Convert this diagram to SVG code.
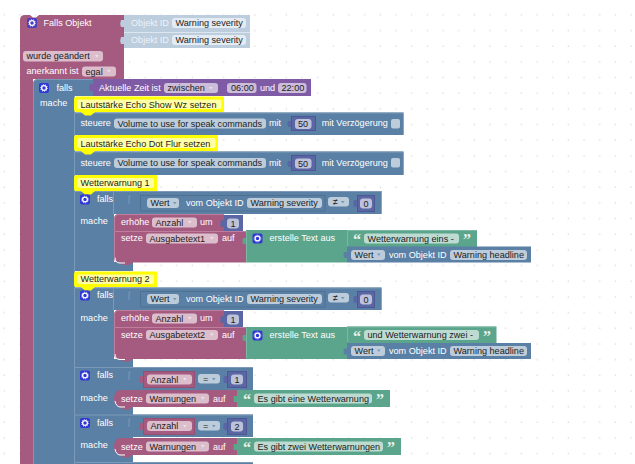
<svg xmlns="http://www.w3.org/2000/svg" width="635" height="464" viewBox="0 0 635 464">
<style>
text{font-family:"Liberation Sans",Arial,sans-serif;font-size:9.1px;white-space:pre}
.w{fill:#fff}.d{fill:#1c1c1c}
.m{fill:#a55b80}.b{fill:#5b80a5}.g{fill:#5ba58c}.p{fill:#805ba5}.n{fill:#5b67a5}.o{fill:#bccddd}
.fm{fill:#dbbdcc}.fb{fill:#bdccdb}.fg{fill:#bddbd1}.fp{fill:#ccbddb}.fn{fill:#bdc2db}.fo{fill:#e4ebf2}
.hb{fill:none;stroke:#7c99b7;stroke-width:1}.hm{fill:none;stroke:#c07d9e;stroke-width:1}.hg{fill:none;stroke:#7cb7a3;stroke-width:1}
.ob{fill:none;stroke:#4f7190;stroke-width:1}.on{fill:none;stroke:#4c5794;stroke-width:1}.om{fill:none;stroke:#944f72;stroke-width:1}
.c{fill:#ffff00}.ci{fill:#ffffa6}
.q{fill:#e6f2ee;font-family:"Liberation Serif",serif;font-size:16px;font-weight:bold}
</style>
<defs>
<pattern id="grid" patternUnits="userSpaceOnUse" x="0" y="0" width="15.67" height="15.67"><rect x="3.6" y="14.2" width="1.4" height="1.4" fill="#dedede"/></pattern>
<path id="a" d="M0 0h3.6l-1.8 2.4z" fill="#fff" fill-opacity=".55"/>
<path id="ad" d="M0 0h3.6l-1.8 2.4z" fill="#5b80a5" fill-opacity=".7"/>
<g id="i"><rect width="10" height="10" rx="2" fill="#2f38d6"/><circle cx="5" cy="5" r="2.4" fill="none" stroke="#fff" stroke-width="1.3"/><circle cx="5" cy="5" r="3.4" fill="none" stroke="#fff" stroke-width=".8" stroke-dasharray="1 1.1"/></g>
<g id="i2"><rect width="10" height="10" rx="2" fill="#4b3cc4"/><circle cx="5" cy="5" r="2.4" fill="none" stroke="#fff" stroke-width="1.3"/><circle cx="5" cy="5" r="3.4" fill="none" stroke="#fff" stroke-width=".8" stroke-dasharray="1 1.1"/></g>
</defs>
<rect width="635" height="464" fill="#fff"/>
<rect width="635" height="464" fill="url(#grid)"/>

<g id="falls-objekt">
<path class="m" d="M20 20Q20 15 25 15H30l3 2.500h3l3-2.500H124V79H33V464H20Z"/>
<use href="#i2" x="27" y="18"/>
<text class="w" x="43.500" y="26">Falls Objekt</text>
<rect class="fm" x="23" y="51" width="80" height="10.500" rx="3"/><text class="d" x="26.500" y="59.300">wurde geändert</text><use href="#a" x="95" y="55"/>
<text class="w" x="26.500" y="74">anerkannt ist</text>
<rect class="fm" x="82" y="66.500" width="34" height="10" rx="3"/><text class="d" x="85.500" y="74.500">egal</text><use href="#a" x="107" y="70"/>
</g>
<g id="objekt-id-1">
<path class="o" d="M124 15H250V32H124V27h-3q-1.500-3.500 0-7h3Z"/>
<text x="131" y="26" fill="#eef3f8">Objekt ID</text>
<rect class="fo" x="172" y="18" width="74" height="10" rx="3"/><text class="d" x="175.500" y="26">Warning severity</text>
</g>
<g id="objekt-id-2">
<path class="o" d="M124 32.500H250V48H124V44h-3q-1.500-3.500 0-7h3Z"/>
<text x="131" y="43" fill="#eef3f8">Objekt ID</text>
<rect class="fo" x="172" y="35" width="74" height="10" rx="3"/><text class="d" x="175.500" y="43">Warning severity</text>
</g>

<g id="falls-zeit">
<path class="b" d="M33 84Q33 79 38 79H93V96H74V464H33Z"/>
<path class="hb" d="M33.500 464V84Q33.500 79.500 38 79.500H93"/>
<path class="hb" d="M74.500 96V464"/>
<use href="#i" x="39" y="83"/>
<text class="w" x="56.500" y="91">falls</text>
<text class="w" x="40" y="106">mache</text>
</g>
<g id="zeit">
<path class="p" d="M93 79H311V96H93V91h-3q-2-3.500 0-7h3Z"/>
<text class="w" x="99" y="91">Aktuelle Zeit ist</text>
<rect class="fp" x="164" y="83" width="54" height="10" rx="3"/><text class="d" x="167.500" y="91">zwischen</text><use href="#a" x="209" y="87"/>
<rect class="fp" x="227" y="83" width="29.500" height="10" rx="3"/><text class="d" x="231" y="91">06:00</text>
<text class="w" x="260" y="91">und</text>
<rect class="fp" x="278" y="83" width="28.500" height="10" rx="3"/><text class="d" x="281.500" y="91">22:00</text>
</g>

<g id="kommentar-1">
<path class="c" d="M74 99Q74 96.500 76.500 96.500H224V112H76.500Q74 112 74 109.500Z"/>
<rect class="ci" x="77" y="99.500" width="144.500" height="9.500" rx="2"/>
<text class="d" x="80.500" y="107.500">Lautstärke Echo Show Wz setzen</text>
</g>
<g id="steuere-1">
<path class="b" d="M74 112.500H403.700V135H74Z"/>
<path class="hb" d="M74.500 135V113H403"/>
<path class="c" d="M81 112h14l-4 3.500h-6Z"/>
<text class="w" x="80.500" y="126">steuere</text>
<rect class="fb" x="114" y="118.500" width="152" height="10" rx="3"/><text class="d" x="117.500" y="126.500">Volume to use for speak commands</text>
<text class="w" x="269" y="126">mit</text>
<path class="n" d="M291 116H316V131H291V127h-3q-1.500-3 0-6h3Z"/><rect class="on" x="291.500" y="116.500" width="24" height="14"/>
<rect class="fn" x="295" y="119" width="16.500" height="10" rx="3"/><text class="d" x="298" y="127">50</text>
<text class="w" x="321.700" y="126">mit Verzögerung</text>
<rect class="fb" x="391" y="119" width="9" height="9.500" rx="2"/>
</g>
<g id="kommentar-2">
<path class="c" d="M74 137.500Q74 135 76.500 135H218V151H76.500Q74 151 74 148.500Z"/>
<rect class="ci" x="77" y="138" width="138.500" height="10" rx="2"/>
<text class="d" x="80.500" y="146.500">Lautstärke Echo Dot Flur setzen</text>
</g>
<g id="steuere-2">
<path class="b" d="M74 151.500H403.700V175H74Z"/>
<path class="hb" d="M74.500 175V152H403"/>
<path class="c" d="M81 151h14l-4 3.500h-6Z"/>
<text class="w" x="80.500" y="166">steuere</text>
<rect class="fb" x="114" y="158" width="152" height="10" rx="3"/><text class="d" x="117.500" y="166">Volume to use for speak commands</text>
<text class="w" x="269" y="166">mit</text>
<path class="n" d="M291 155H316V171H291V167h-3q-1.500-3 0-6h3Z"/><rect class="on" x="291.500" y="155.500" width="24" height="15"/>
<rect class="fn" x="295" y="158.500" width="16.500" height="10" rx="3"/><text class="d" x="298" y="166.500">50</text>
<text class="w" x="321.700" y="166">mit Verzögerung</text>
<rect class="fb" x="391" y="158" width="9" height="9.500" rx="2"/>
</g>

<g id="kommentar-3">
<path class="c" d="M74 177.500Q74 175 76.500 175H157V191H76.500Q74 191 74 188.500Z"/>
<rect class="ci" x="77" y="178" width="77" height="10" rx="2"/>
<text class="d" x="80.500" y="186.300">Wetterwarnung 1</text>
</g>
<g id="falls-1">
<path class="b" d="M74 191H381.700V214H114V262H133V271H74Z"/>
<path class="hb" d="M74.500 271V191.500H381"/>
<path class="c" d="M81 191h14l-4 3.500h-6Z"/>
<path class="hb" d="M113.500 214V192M130.500 196h-1.500v8"/>
<use href="#i" x="80" y="194.500"/>
<text class="w" x="97" y="202">falls</text>
<text class="w" x="80.500" y="224">mache</text>
<path class="ob" d="M140.500 195.500H325V211H140.500Z"/>
<rect class="fb" x="147" y="198" width="32" height="10" rx="3"/><text class="d" x="150.500" y="206">Wert</text><use href="#ad" x="173" y="202"/>
<text class="w" x="186" y="206">vom Objekt ID</text>
<rect class="fb" x="247" y="198" width="75" height="10" rx="3"/><text class="d" x="250.500" y="206">Warning severity</text>
<rect class="fb" x="328" y="197" width="21" height="9.500" rx="3"/><text class="d" x="333" y="205">≠</text><use href="#ad" x="341" y="201"/>
<path class="n" d="M357 195H375V212H357V207h-3q-1.500-3.500 0-7h3Z"/><rect class="on" x="357.500" y="195.500" width="17" height="16"/>
<rect class="fn" x="360" y="198.500" width="12" height="10" rx="3"/><text class="d" x="363.500" y="206.500">0</text>
</g>
<g id="erhoehe-1">
<path class="m" d="M114 219Q114 214 119 214H224V231H114Z"/>
<path class="hm" d="M114.500 231V219Q114.500 214.500 119 214.500H224"/>
<text class="w" x="121" y="225">erhöhe</text>
<rect class="fm" x="152" y="217.500" width="45" height="10" rx="3"/><text class="d" x="155.500" y="225.500">Anzahl</text><use href="#a" x="188" y="221"/>
<text class="w" x="200" y="225">um</text>
<path class="n" d="M224 215H243V231H224V227h-3q-1.500-3.500 0-7h3Z"/>
<rect class="fn" x="227" y="218.500" width="12" height="10" rx="3"/><text class="d" x="230.500" y="226.500">1</text>
</g>
<g id="setze-1">
<path class="m" d="M114 231H246V262.500H133l-4 2.500h-6l-3-2.500H119Q114 262.500 114 257.500Z"/>
<path d="M115 257.500Q115 263 120 263H125" fill="none" stroke="#fff" stroke-width="1"/>
<path class="hm" d="M114.500 257V231.500H246"/>
<text class="w" x="121" y="241">setze</text>
<rect class="fm" x="146" y="233.500" width="72" height="10" rx="3"/><text class="d" x="149.500" y="241.500">Ausgabetext1</text><use href="#a" x="210" y="237"/>
<text class="w" x="222" y="241">auf</text>
</g>
<g id="text-1">
<path class="g" d="M246 230H347V262.500H246V244h-3q-1-3 0-6h3Z"/>
<path class="hg" d="M246.500 262V231"/>
<use href="#i" x="252.500" y="233.500"/>
<text class="w" x="269.500" y="241">erstelle Text aus</text>
<path class="g" d="M347 230H477V247H347Z"/><path class="hg" d="M347.500 246V230.500H477"/>
<text class="q" x="353" y="245">“</text>
<rect class="fg" x="364" y="233.500" width="95" height="10" rx="3"/><text class="d" x="367.500" y="241.500">Wetterwarnung eins - </text>
<text class="q" x="463" y="245">”</text>
<path class="b" d="M347 246.500H531V262.500H347V258h-3q-1-3 0-6h3Z"/>
<rect class="fb" x="351" y="250" width="34" height="10" rx="3"/><text class="d" x="354.500" y="258">Wert</text><use href="#ad" x="377" y="253.500"/>
<text class="w" x="389" y="258">vom Objekt ID</text>
<rect class="fb" x="450" y="250" width="77" height="10" rx="3"/><text class="d" x="453.500" y="258">Warning headline</text>
</g>

<g id="kommentar-4">
<path class="c" d="M74 274Q74 271.500 76.500 271.500H157V287H76.500Q74 287 74 284.500Z"/>
<rect class="ci" x="77" y="274.500" width="77" height="9.500" rx="2"/>
<text class="d" x="80.500" y="282.300">Wetterwarnung 2</text>
</g>
<g id="falls-2">
<path class="b" d="M74 287.500H381.700V310H114V359H133V367H74Z"/>
<path class="hb" d="M74.500 367V288H381"/>
<path class="c" d="M81 287h14l-4 3.500h-6Z"/>
<path class="hb" d="M113.500 310V288.500M130.500 292h-1.500v8"/>
<use href="#i" x="80" y="290.500"/>
<text class="w" x="97" y="298">falls</text>
<text class="w" x="80.500" y="321">mache</text>
<path class="ob" d="M140.500 291.500H325V307H140.500Z"/>
<rect class="fb" x="147" y="294" width="32" height="10" rx="3"/><text class="d" x="150.500" y="302">Wert</text><use href="#ad" x="173" y="298"/>
<text class="w" x="186" y="302">vom Objekt ID</text>
<rect class="fb" x="247" y="294" width="75" height="10" rx="3"/><text class="d" x="250.500" y="302">Warning severity</text>
<rect class="fb" x="328" y="293" width="21" height="9.500" rx="3"/><text class="d" x="333" y="301">≠</text><use href="#ad" x="341" y="297"/>
<path class="n" d="M357 291H375V308H357V303h-3q-1.500-3.500 0-7h3Z"/><rect class="on" x="357.500" y="291.500" width="17" height="16"/>
<rect class="fn" x="360" y="294.500" width="12" height="10" rx="3"/><text class="d" x="363.500" y="302.500">0</text>
</g>
<g id="erhoehe-2">
<path class="m" d="M114 315Q114 310 119 310H224V327H114Z"/>
<path class="hm" d="M114.500 327V315Q114.500 310.500 119 310.500H224"/>
<text class="w" x="121" y="321">erhöhe</text>
<rect class="fm" x="152" y="313.500" width="45" height="10" rx="3"/><text class="d" x="155.500" y="321.500">Anzahl</text><use href="#a" x="188" y="317"/>
<text class="w" x="200" y="321">um</text>
<path class="n" d="M224 311H243V327H224V323h-3q-1.500-3.500 0-7h3Z"/>
<rect class="fn" x="227" y="314.500" width="12" height="10" rx="3"/><text class="d" x="230.500" y="322.500">1</text>
</g>
<g id="setze-2">
<path class="m" d="M114 327H246V359H133l-4 2.500h-6l-3-2.500H119Q114 359 114 354Z"/>
<path d="M115 354Q115 359.500 120 359.500H125" fill="none" stroke="#fff" stroke-width="1"/>
<path class="hm" d="M114.500 354V327.500H246"/>
<text class="w" x="121" y="338">setze</text>
<rect class="fm" x="146" y="330" width="72" height="10" rx="3"/><text class="d" x="149.500" y="338">Ausgabetext2</text><use href="#a" x="210" y="333.500"/>
<text class="w" x="222" y="338">auf</text>
</g>
<g id="text-2">
<path class="g" d="M246 327H347V359H246V341h-3q-1-3 0-6h3Z"/>
<path class="hg" d="M246.500 358V328"/>
<use href="#i" x="252.500" y="330.500"/>
<text class="w" x="269.500" y="338">erstelle Text aus</text>
<path class="g" d="M347 326.500H496.500V343H347Z"/><path class="hg" d="M347.500 342V327H496"/>
<text class="q" x="353" y="342">“</text>
<rect class="fg" x="364" y="330" width="115" height="10" rx="3"/><text class="d" x="367.500" y="338">und Wetterwarnung zwei - </text>
<text class="q" x="483" y="342">”</text>
<path class="b" d="M347 343H531V359H347V354.500h-3q-1-3 0-6h3Z"/>
<rect class="fb" x="351" y="346" width="34" height="10" rx="3"/><text class="d" x="354.500" y="354">Wert</text><use href="#ad" x="377" y="349.500"/>
<text class="w" x="389" y="354">vom Objekt ID</text>
<rect class="fb" x="450" y="346" width="77" height="10" rx="3"/><text class="d" x="453.500" y="354">Warning headline</text>
</g>

<g id="falls-3">
<path class="b" d="M74 367H253V390H133V415H74Z"/>
<path class="hb" d="M74.500 415V367.500H253"/>
<path class="hb" d="M130.500 372h-1.500v8"/>
<use href="#i" x="80" y="370.500"/>
<text class="w" x="97" y="378">falls</text>
<text class="w" x="80.500" y="401">mache</text>
<path class="m" d="M143 371H195V388H143V383h-3q-1.500-3.500 0-7h3Z"/><rect class="om" x="143.500" y="371.500" width="51" height="16"/>
<rect class="fm" x="147" y="374.500" width="45" height="10" rx="3"/><text class="d" x="150.500" y="382.500">Anzahl</text><use href="#a" x="183" y="378"/>
<rect class="fb" x="198" y="374" width="22" height="9.500" rx="3"/><text class="d" x="203" y="382">=</text><use href="#ad" x="212" y="378"/>
<path class="n" d="M227 371H247V388H227V383h-3q-1.500-3.500 0-7h3Z"/><rect class="on" x="227.500" y="371.500" width="19" height="16"/>
<rect class="fn" x="231" y="374.500" width="12" height="10" rx="3"/><text class="d" x="234.500" y="382.500">1</text>
</g>
<g id="setze-3">
<path class="m" d="M120 390H237V407H133l-4 2.500h-6l-3-2.500Q114 406 114 398.500Q114 391 120 390Z"/>
<path d="M115 401Q116 406.500 120 407H125" fill="none" stroke="#fff" stroke-width="1"/>
<text class="w" x="121" y="401.500">setze</text>
<rect class="fm" x="146" y="393.500" width="63" height="10" rx="3"/><text class="d" x="149.500" y="401.500">Warnungen</text><use href="#a" x="201" y="397"/>
<text class="w" x="213" y="401.500">auf</text>
</g>
<g id="text-3">
<path class="g" d="M237 390H390V407H237V402h-3q-1-3 0-6h3Z"/>
<text class="q" x="243" y="405">“</text>
<rect class="fg" x="254" y="393.500" width="118" height="10" rx="3"/><text class="d" x="257.500" y="401.500">Es gibt eine Wetterwarnung</text>
<text class="q" x="376" y="405">”</text>
</g>

<g id="falls-4">
<path class="b" d="M74 414.500H253V437H133V462H74Z"/>
<path class="hb" d="M74.500 462V415H253"/>
<path class="hb" d="M130.500 419h-1.500v8"/>
<use href="#i" x="80" y="418"/>
<text class="w" x="97" y="425.500">falls</text>
<text class="w" x="80.500" y="448">mache</text>
<path class="m" d="M143 418H195V435H143V430h-3q-1.500-3.500 0-7h3Z"/><rect class="om" x="143.500" y="418.500" width="51" height="16"/>
<rect class="fm" x="147" y="421" width="45" height="10" rx="3"/><text class="d" x="150.500" y="429">Anzahl</text><use href="#a" x="183" y="425"/>
<rect class="fb" x="198" y="421" width="22" height="9.500" rx="3"/><text class="d" x="203" y="429">=</text><use href="#ad" x="212" y="425"/>
<path class="n" d="M227 418H247V435H227V430h-3q-1.500-3.500 0-7h3Z"/><rect class="on" x="227.500" y="418.500" width="19" height="16"/>
<rect class="fn" x="231" y="421.500" width="12" height="10" rx="3"/><text class="d" x="234.500" y="429.500">2</text>
</g>
<g id="setze-4">
<path class="m" d="M120 438H237V455H133l-4 2.500h-6l-3-2.500Q114 454 114 446.500Q114 439 120 438Z"/>
<path d="M115 449Q116 454.500 120 455H125" fill="none" stroke="#fff" stroke-width="1"/>
<text class="w" x="121" y="449.500">setze</text>
<rect class="fm" x="146" y="441.500" width="63" height="10" rx="3"/><text class="d" x="149.500" y="449.500">Warnungen</text><use href="#a" x="201" y="445"/>
<text class="w" x="213" y="449.500">auf</text>
</g>
<g id="text-4">
<path class="g" d="M237 438H401V455H237V450h-3q-1-3 0-6h3Z"/>
<text class="q" x="243" y="453">“</text>
<rect class="fg" x="254" y="441.500" width="129" height="10" rx="3"/><text class="d" x="257.500" y="449.500">Es gibt zwei Wetterwarnungen</text>
<text class="q" x="387" y="453">”</text>
</g>
<g id="falls-5">
<path class="b" d="M74 462H253V464H74Z"/>
<path class="hb" d="M74.500 464V462.500H253"/>
</g>
</svg>
